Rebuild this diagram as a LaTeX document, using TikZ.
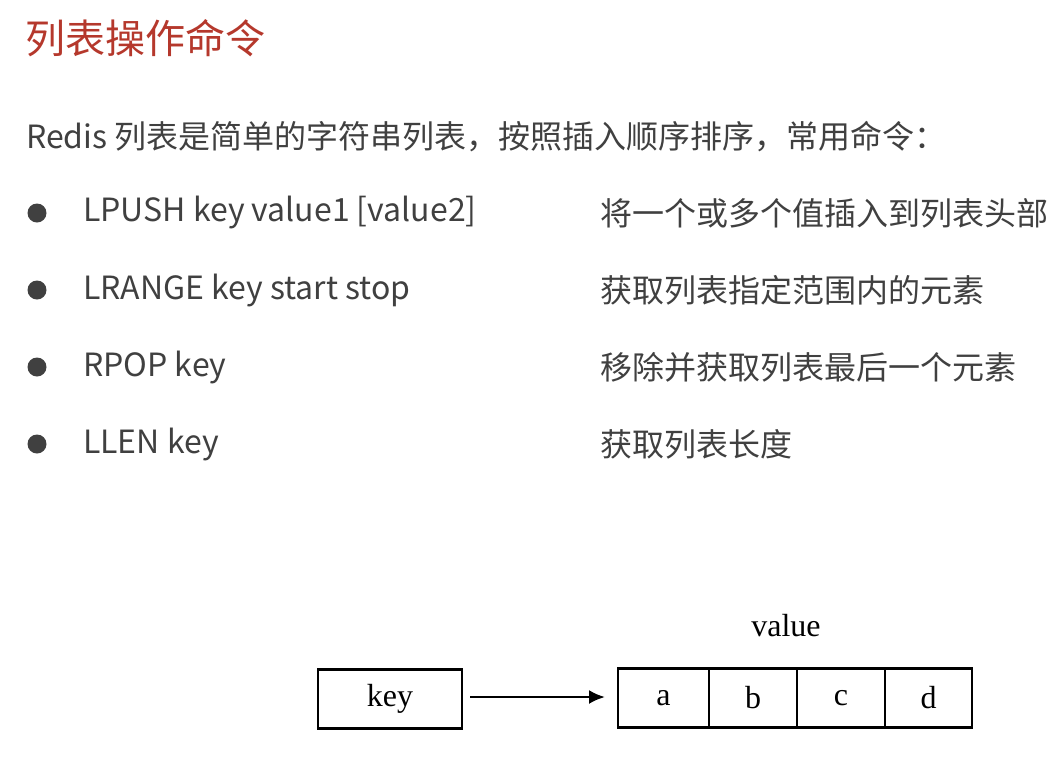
\documentclass[tikz,border=0pt]{standalone}
\usepackage{fontspec}
\usetikzlibrary{arrows.meta}
\setmainfont{Noto Sans CJK SC}
\newfontfamily\serifkey{Liberation Serif}
\definecolor{titlered}{HTML}{B5382C}
\definecolor{bodygray}{HTML}{404040}
\begin{document}
\begin{tikzpicture}[x=1pt,y=-1pt,
  body/.style={anchor=west,text=bodygray,font=\fontsize{32}{36}\selectfont,inner sep=0},
  dot/.style={circle,fill=bodygray,minimum size=19,inner sep=0},
  cell/.style={draw,line width=2.6pt,minimum height=59,inner sep=0,font=\serifkey\fontsize{32}{34}\selectfont},
  arr/.style={-{Latex[length=16,width=14]},line width=2.5pt}]
\useasboundingbox (0,0) rectangle (1060,756);
\node[anchor=west,text=titlered,font=\fontsize{40}{44}\selectfont,inner sep=0] (title) at (25,38) {列表操作命令};
\node[body] (intro) at (26,137) {Redis 列表是简单的字符串列表，按照插入顺序排序，常用命令：};
\foreach \y/\c/\d [count=\i] in {213/{LPUSH key value1 [value2]}/将一个或多个值插入到列表头部,
  290/{LRANGE key start stop}/获取列表指定范围内的元素,
  367/{RPOP key}/移除并获取列表最后一个元素,
  444/{LLEN key}/获取列表长度}{
  \node[dot] (b\i) at (37,\y) {};
  \node[body] (c\i) at (83,\y) {\c};
  \node[body] (d\i) at (600,\y) {\d};
}
\node[cell,minimum width=144] (key) at (390,699) {key};
\node[cell,minimum width=91] (va) at (663.5,698) {a};
\node[cell,minimum width=88] (vb) at (753,698) {b};
\node[cell,minimum width=88] (vc) at (841,698) {c};
\node[cell,minimum width=87] (vd) at (928.5,698) {d};
\node[font=\serifkey\fontsize{32}{34}\selectfont] (vlabel) at (786,626) {value};
\coordinate (s) at (470,697);
\coordinate (e) at (605,697);
\draw[arr] (s) -- (e);
\end{tikzpicture}
\end{document}
